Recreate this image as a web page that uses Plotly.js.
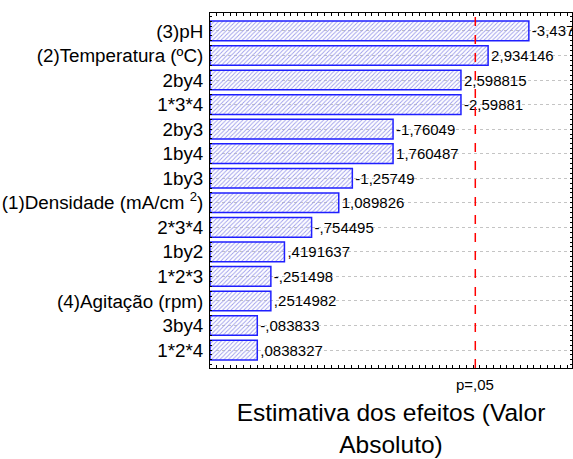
<!DOCTYPE html>
<html>
<head>
<meta charset="utf-8">
<script src="https://cdn.plot.ly/plotly-3.0.1.min.js"></script>
<style>html,body{margin:0;padding:0;background:#fff;}#chart{width:573px;height:459px;}</style>
</head>
<body>
<div id="chart"></div>
<script>
// Effect names (top to bottom)
var categories = [
  "(3)pH",
  "(2)Temperatura (ºC)",
  "2by4",
  "1*3*4",
  "2by3",
  "1by4",
  "1by3",
  "(1)Densidade (mA/cm <sup>2</sup>)",
  "2*3*4",
  "1by2",
  "1*2*3",
  "(4)Agitação (rpm)",
  "3by4",
  "1*2*4"
];
// Standardized effect estimates (signed)
var effects = [-3.4372, 2.934146, 2.598815, -2.59881, -1.76049, 1.760487, -1.25749,
               1.089826, -0.754495, 0.4191637, -0.251498, 0.2514982, -0.083833, 0.0838327];
// Value labels as printed on the chart
var valueLabels = ["-3,4372", "2,934146", "2,598815", "-2,59881", "-1,76049", "1,760487", "-1,25749",
                   "1,089826", "-,754495", ",4191637", "-,251498", ",2514982", "-,083833", ",0838327"];
// Critical value for p=.05
var pCritical = 2.776;
var pLabel = "p=,05";

var XMIN = -0.5, XMAX = 3.97;
var absVals = effects.map(function(v){ return Math.abs(v); });

var font = "Liberation Sans, Arial, sans-serif";

var bars = {
  type: "bar",
  orientation: "h",
  y: categories,
  x: absVals.map(function(v){ return v - XMIN; }),
  base: XMIN,
  text: valueLabels,
  textposition: "outside",
  cliponaxis: false,
  constraintext: "none",
  textfont: {family: font, size: 15, color: "#000"},
  marker: {
    color: "#c9c9fb",
    pattern: {shape: "/", fgcolor: "#9d9deb", size: 3, solidity: 0.3},
    line: {color: "#1f1fff", width: 1.5}
  },
  hoverinfo: "skip",
  showlegend: false
};
var tickHelper = {type: "scatter", x: [], y: [], yaxis: "y2", showlegend: false, hoverinfo: "skip"};

var layout = {
  width: 573, height: 459,
  margin: {l: 210, r: 1, t: 13, b: 91},
  paper_bgcolor: "#fff", plot_bgcolor: "#fff",
  font: {family: font, color: "#000"},
  bargap: 0.2,
  showlegend: false,
  xaxis: {
    range: [XMIN, XMAX],
    showline: true, linecolor: "#000", linewidth: 1, mirror: "ticks",
    ticks: "inside", ticklen: 3, tickcolor: "#000", tick0: XMIN, dtick: 0.0833,
    showticklabels: false, showgrid: false, zeroline: false,
    title: {text: "Estimativa dos efeitos (Valor<br>Absoluto)", font: {family: font, size: 24.5, color: "#000"}, standoff: 35},
    automargin: false
  },
  yaxis: {
    type: "category",
    categoryarray: categories,
    range: [13.73, -0.73],
    showline: true, linecolor: "#000", linewidth: 1, mirror: true,
    ticks: "", showgrid: true, gridcolor: "#c4c4c4", griddash: "dot", gridwidth: 1,
    zeroline: false, ticklabelstandoff: 2,
    tickfont: {family: font, size: 18.8, color: "#000"},
    automargin: false
  },
  yaxis2: {
    overlaying: "y", side: "left",
    range: [-0.73, 13.73],
    ticks: "inside", ticklen: 2, tickcolor: "#000", dtick: 0.2, tick0: 0,
    mirror: "ticks", showline: false, showticklabels: false,
    showgrid: false, zeroline: false
  },
  shapes: [{
    type: "line", xref: "x", yref: "paper",
    x0: pCritical, x1: pCritical, y0: 0, y1: 1,
    line: {color: "#ff0000", width: 1.5, dash: "dash"}, layer: "above"
  }],
  annotations: [{
    text: pLabel, xref: "x", yref: "paper", x: pCritical, y: 0,
    yanchor: "top", xanchor: "center", yshift: -6, showarrow: false,
    font: {family: font, size: 15, color: "#000"}
  }]
};

Plotly.newPlot("chart", [bars, tickHelper], layout, {displayModeBar: false, staticPlot: true});
</script>
</body>
</html>
